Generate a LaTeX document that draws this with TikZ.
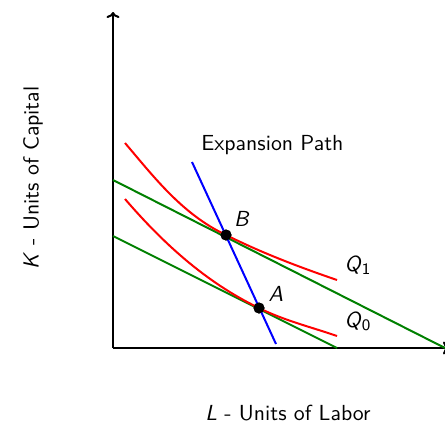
\documentclass[tikz,border=0pt]{standalone}
\usepackage{tikz}
\usetikzlibrary{calc, positioning, arrows.meta}
\renewcommand{\familydefault}{\sfdefault}
\newcommand{\sfvar}[1]{\textsf{\textit{#1}}}

\begin{document}
\begin{tikzpicture}[
    x=0.5pt, y=-0.5pt,
    axisline/.style={-{To[length=3pt,width=6.5pt]}, line width=1pt, black},
    isocost/.style={line width=1pt, green!50!black},
    isoquant/.style={line width=1pt, red},
    exppath/.style={line width=1pt, blue},
    optpoint/.style={
        circle,
        fill=black,
        inner sep=0pt,
        minimum size=5.5pt
    },
    lbl/.style={font=\fontsize{10.9}{13}\selectfont, inner sep=1pt}
]
\useasboundingbox (0,0) rectangle (445,428);

% Axes
\coordinate (O) at (113,348);
\coordinate (ytop) at (113,12);
\coordinate (xend) at (449,348);
\draw[axisline] (O) -- (ytop);
\draw[axisline] (O) -- (xend);

% Budget lines
\coordinate (c1a) at (113,180);
\coordinate (c1b) at (445,348);
\coordinate (c0a) at (113,236);
\coordinate (c0b) at (337,348);
\draw[isocost] (c1a) -- (c1b);
\draw[isocost] (c0a) -- (c0b);

% Tangency points
\node[optpoint] (B) at (226,235) {};
\node[optpoint] (A) at (259,308) {};

% Isoquants
\coordinate (q1s) at (125,143);
\coordinate (q1e) at (337,280);
\coordinate (q0s) at (125,199);
\coordinate (q0e) at (337,336);
\draw[isoquant] (q1s) .. controls (154,177) and (182,214) .. (B.center)
    .. controls (262,253) and (299,267) .. (q1e);
\draw[isoquant] (q0s) .. controls (162,242) and (205,282) .. (A.center)
    .. controls (284,320.5) and (311,327) .. (q0e);

% Expansion path
\coordinate (eps) at (192,162);
\coordinate (epe) at (276,344);
\draw[exppath] (eps) -- (epe);

% Dots on top
\node[optpoint] at (B) {};
\node[optpoint] at (A) {};

% Labels
\node[lbl, anchor=west] (eplabel) at (199,145) {Expansion Path};
\node[lbl] (Blabel) at (242,219) {\sfvar{B}};
\node[lbl] (Alabel) at (276,294) {\sfvar{A}};
\node[lbl] (Q1label) at (358,265) {\sfvar{Q}$_{\mathsf{1}}$};
\node[lbl] (Q0label) at (358,321) {\sfvar{Q}$_{\mathsf{0}}$};
\node[lbl, rotate=90] (klabel) at (33,178) {\sfvar{K} - Units of Capital};
\node[lbl] (llabel) at (288,413) {\sfvar{L} - Units of Labor};
\end{tikzpicture}
\end{document}
